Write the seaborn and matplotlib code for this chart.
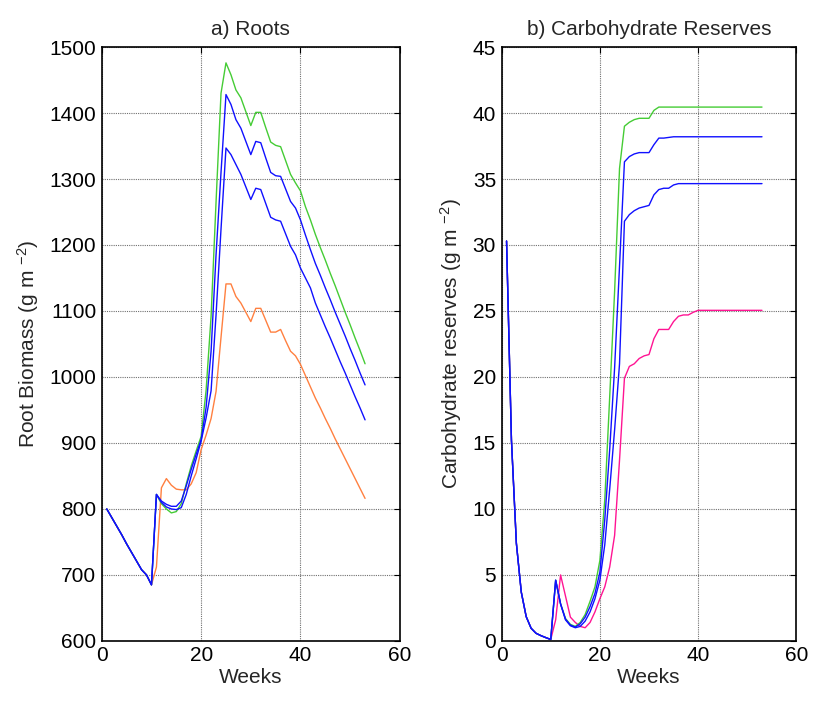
import matplotlib
matplotlib.use("Agg")
import numpy as np
import pandas as pd
import seaborn as sns
import matplotlib.pyplot as plt

# ---------------- data ----------------
weeks = list(range(1, 54))

# a) Root biomass (g m-2)
root_green = [800, 787, 774, 761, 747, 734, 721, 708, 700, 685,
              822, 808, 800, 794, 796, 808, 838, 865, 888, 910, 980, 1092, 1265, 1430,
              1476, 1458, 1435, 1423, 1402, 1381, 1401, 1401, 1378, 1356, 1351, 1349, 1328, 1307,
              1294, 1282, 1258, 1238, 1216, 1196, 1177, 1157, 1138, 1118, 1098, 1079, 1059, 1040, 1020]
root_blue1 = [800, 787, 774, 761, 747, 734, 721, 708, 700, 685,
              822, 812, 807, 804, 804, 812, 835, 860, 883, 905, 954, 1039, 1185, 1310,
              1428, 1413, 1390, 1377, 1357, 1337, 1357, 1355, 1332, 1310, 1305, 1304, 1285, 1266,
              1256, 1238, 1215, 1193, 1172, 1154, 1135, 1117, 1098, 1080, 1062, 1043, 1025, 1006, 988]
root_blue2 = [800, 787, 774, 761, 747, 734, 721, 708, 700, 685,
              822, 810, 803, 800, 799, 802, 822, 850, 876, 903, 938, 979, 1094, 1224,
              1347, 1337, 1322, 1307, 1288, 1269, 1286, 1284, 1263, 1242, 1238, 1236, 1217, 1198,
              1185, 1165, 1150, 1135, 1112, 1094, 1076, 1059, 1041, 1023, 1006, 988, 970, 953, 935]
root_orange = [800, 787, 774, 761, 747, 734, 721, 708, 700, 685,
               712, 832, 846, 836, 830, 829, 829, 838, 855, 890, 912, 937, 978, 1060,
               1141, 1141, 1122, 1112, 1098, 1084, 1104, 1104, 1086, 1068, 1068, 1072, 1055, 1039,
               1032, 1019, 1002, 985, 968, 953, 937, 922, 906, 891, 876, 861, 846, 831, 816]

# b) Carbohydrate reserves (g m-2)
carb_green = [30.3, 15.2, 7.4, 3.7, 1.84, 0.96, 0.58, 0.40, 0.25, 0.11,
              4.6, 2.8, 1.7, 1.25, 1.1, 1.4, 2.0, 3.0, 4.1, 6.1, 10.7, 18.5, 26.5, 35.8,
              39.0, 39.3, 39.5, 39.6, 39.6, 39.6, 40.2, 40.45, 40.45, 40.45, 40.45, 40.45, 40.45,
              40.45, 40.45, 40.45, 40.45, 40.45, 40.45, 40.45, 40.45, 40.45, 40.45, 40.45, 40.45,
              40.45, 40.45, 40.45, 40.45]
carb_blue1 = [30.3, 15.2, 7.4, 3.7, 1.84, 0.96, 0.58, 0.40, 0.25, 0.11,
              4.6, 2.8, 1.65, 1.2, 1.05, 1.3, 1.8, 2.6, 3.6, 5.2, 9.2, 14.5, 20.7, 28.4,
              36.3, 36.7, 36.9, 37.0, 37.0, 37.0, 37.6, 38.1, 38.1, 38.15, 38.2, 38.2, 38.2,
              38.2, 38.2, 38.2, 38.2, 38.2, 38.2, 38.2, 38.2, 38.2, 38.2, 38.2, 38.2,
              38.2, 38.2, 38.2, 38.2]
carb_blue2 = [30.3, 15.2, 7.4, 3.7, 1.84, 0.96, 0.58, 0.40, 0.25, 0.11,
              4.6, 2.8, 1.6, 1.15, 1.0, 1.1, 1.5, 2.2, 3.2, 4.6, 7.3, 11.5, 16.0, 21.0,
              31.8, 32.3, 32.6, 32.8, 32.9, 33.0, 33.8, 34.2, 34.3, 34.3, 34.55, 34.65, 34.65,
              34.65, 34.65, 34.65, 34.65, 34.65, 34.65, 34.65, 34.65, 34.65, 34.65, 34.65, 34.65,
              34.65, 34.65, 34.65, 34.65]
carb_pink = [30.3, 15.2, 7.4, 3.7, 1.84, 0.96, 0.58, 0.40, 0.25, 0.11,
             1.6, 5.0, 3.4, 1.8, 1.4, 1.1, 1.0, 1.4, 2.2, 3.2, 4.1, 5.6, 8.0, 13.7,
             19.9, 20.8, 21.0, 21.4, 21.6, 21.7, 22.9, 23.6, 23.6, 23.6, 24.2, 24.6, 24.7,
             24.7, 24.9, 25.05, 25.05, 25.05, 25.05, 25.05, 25.05, 25.05, 25.05, 25.05, 25.05,
             25.05, 25.05, 25.05, 25.05]

x_ticks = [0, 20, 40, 60]
root_ticks = [600, 700, 800, 900, 1000, 1100, 1200, 1300, 1400, 1500]
carb_ticks = [0, 5, 10, 15, 20, 25, 30, 35, 40, 45]

# ---------------- style ----------------
sns.set_theme(style="white")
plt.rcParams["font.family"] = ["Liberation Sans", "DejaVu Sans"]
plt.rcParams["mathtext.default"] = "regular"

FS = 15
c_green, c_blue, c_orange, c_pink = "#45cc35", "#1010ff", "#ff8040", "#ff1493"

# drawing order: first series at the bottom, blues on top
root_df = pd.concat([
    pd.DataFrame({"week": weeks, "val": root_orange, "s": "orange"}),
    pd.DataFrame({"week": weeks, "val": root_green, "s": "green"}),
    pd.DataFrame({"week": weeks, "val": root_blue2, "s": "blue2"}),
    pd.DataFrame({"week": weeks, "val": root_blue1, "s": "blue1"}),
])
carb_df = pd.concat([
    pd.DataFrame({"week": weeks, "val": carb_pink, "s": "pink"}),
    pd.DataFrame({"week": weeks, "val": carb_green, "s": "green"}),
    pd.DataFrame({"week": weeks, "val": carb_blue2, "s": "blue2"}),
    pd.DataFrame({"week": weeks, "val": carb_blue1, "s": "blue1"}),
])
pal = {"green": c_green, "blue1": c_blue, "blue2": c_blue, "orange": c_orange, "pink": c_pink}

fig = plt.figure(figsize=(8.21, 7.02), dpi=100)
ax1 = fig.add_axes([0.124, 0.087, 0.363, 0.846])
ax2 = fig.add_axes([0.611, 0.087, 0.359, 0.846])

sns.lineplot(data=root_df, x="week", y="val", hue="s", palette=pal, linewidth=1.0,
             legend=False, ax=ax1, sort=False)
sns.lineplot(data=carb_df, x="week", y="val", hue="s", palette=pal, linewidth=1.0,
             legend=False, ax=ax2, sort=False)

def style(ax, yticks, ylim, title, ylabel):
    ax.set_xlim(0, 60)
    ax.set_ylim(*ylim)
    ax.set_xticks(x_ticks)
    ax.set_yticks(yticks)
    ax.grid(True, color="#707070", linestyle=(0, (1, 1)), linewidth=0.8)
    ax.set_axisbelow(True)
    for sp in ax.spines.values():
        sp.set_color("black")
        sp.set_linewidth(1.2)
        sp.set_visible(True)
    ax.tick_params(direction="in", length=4, width=0.8, top=True, right=True,
                   labelsize=FS, colors="black", pad=4)
    ax.set_title(title, fontsize=FS, pad=9)
    ax.set_xlabel("Weeks", fontsize=FS, labelpad=2)
    ax.set_ylabel(ylabel, fontsize=FS, labelpad=6)

style(ax1, root_ticks, (600, 1500), "a) Roots", "Root Biomass (g m $^{-2}$)")
style(ax2, carb_ticks, (0, 45), "b) Carbohydrate Reserves", "Carbohydrate reserves (g m $^{-2}$)")

fig.savefig("out.png", dpi=100, facecolor="white")
